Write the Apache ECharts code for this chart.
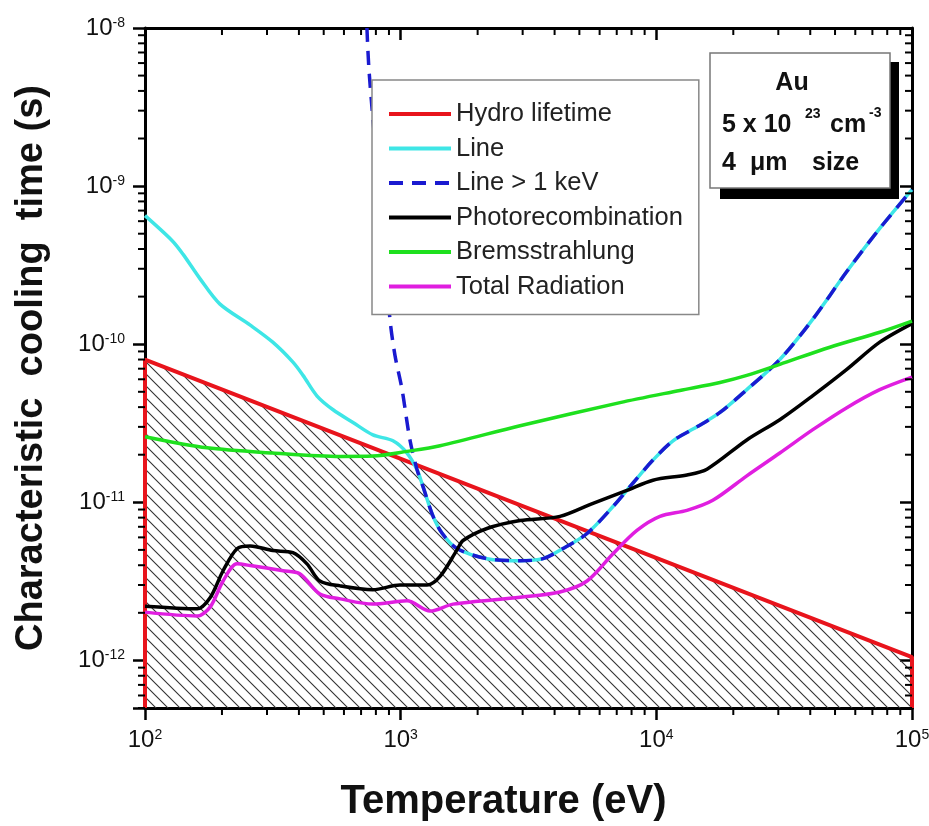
<!DOCTYPE html>
<html lang="en">
<head>
<meta charset="UTF-8">
<title>Au cooling times</title>
<script src="https://cdn.jsdelivr.net/npm/echarts@6/dist/echarts.min.js"></script>
<style>html,body{margin:0;padding:0;background:#fff;}</style>
</head>
<body>
<div id="chart" style="width:929px;height:826px;"></div>
<script type="text/javascript">
var FONT = '"Liberation Sans", Arial, sans-serif';

// [temperature eV, time s]
var hydro = [[100, 5e-13], [100, 8e-11], [100000, 1.05e-12], [100000, 5e-13]];

var lineLow = [[100, 6.5e-10], [128, 4.5e-10], [141, 3.7e-10], [164, 2.6e-10], [196, 1.8e-10],
  [258, 1.32e-10], [316, 1.03e-10], [379, 7.7e-11], [415, 6.35e-11], [471, 4.7e-11],
  [544, 3.85e-11], [651, 3.2e-11], [779, 2.67e-11], [933, 2.45e-11], [1059, 2.05e-11],
  [1160, 1.6e-11]];
var keVTop = [[738, 1e-8], [752, 5.4e-9], [800, 1.6e-9], [850, 5.2e-10], [908, 1.44e-10],
  [950, 8.5e-11], [1012, 5.2e-11], [1087, 2.48e-11], [1160, 1.6e-11]];
// shared by "Line" and "Line > 1 keV"
var lineHigh = [[1222, 1.26e-11], [1337, 8.2e-12], [1450, 6.4e-12], [1661, 5.1e-12],
  [2176, 4.4e-12], [2931, 4.27e-12], [3604, 4.4e-12], [4317, 5.1e-12], [5357, 6.35e-12],
  [6767, 9.4e-12], [8094, 1.32e-11], [9700, 1.85e-11], [11620, 2.45e-11], [14420, 3.0e-11],
  [17740, 3.7e-11], [22590, 5.16e-11], [30410, 8.0e-11], [40940, 1.44e-10],
  [55590, 2.88e-10], [74800, 5.4e-10], [100000, 9.5e-10]];

var photo = [[100, 2.2e-12], [160, 2.12e-12], [180, 2.5e-12], [202, 3.69e-12], [229, 5.09e-12],
  [258, 5.3e-12], [316, 4.95e-12], [379, 4.8e-12], [430, 4.08e-12], [483, 3.18e-12],
  [580, 2.96e-12], [779, 2.8e-12], [993, 3.0e-12], [1268, 3.0e-12], [1426, 3.4e-12],
  [1661, 5.0e-12], [1754, 5.73e-12], [2176, 6.83e-12], [2931, 7.67e-12], [4198, 8.15e-12],
  [5654, 9.86e-12], [7670, 1.19e-11], [9700, 1.38e-11], [13180, 1.49e-11], [15780, 1.62e-11],
  [22590, 2.48e-11], [30410, 3.33e-11], [40940, 4.73e-11], [55590, 6.93e-11],
  [74800, 1.03e-10], [100000, 1.35e-10]];

var brems = [[100, 2.6e-11], [175, 2.21e-11], [316, 2.05e-11], [580, 1.95e-11], [779, 1.96e-11],
  [1059, 2.1e-11], [1426, 2.28e-11], [2931, 3.05e-11], [7210, 4.27e-11], [12360, 5.1e-11],
  [17740, 5.73e-11], [22590, 6.35e-11], [30410, 7.46e-11], [47750, 9.57e-11],
  [74800, 1.19e-10], [100000, 1.4e-10]];

var total = [[100, 2.02e-12], [160, 1.91e-12], [180, 2.18e-12], [202, 3.18e-12], [229, 4.08e-12],
  [258, 3.98e-12], [347, 3.69e-12], [403, 3.53e-12], [483, 2.63e-12], [580, 2.45e-12],
  [779, 2.27e-12], [1059, 2.38e-12], [1303, 2.05e-12], [1603, 2.27e-12], [2931, 2.51e-12],
  [4198, 2.71e-12], [5357, 3.18e-12], [6767, 4.73e-12], [8397, 6.64e-12], [10330, 8.15e-12],
  [13180, 8.9e-12], [16630, 1.03e-11], [22590, 1.47e-11], [30410, 2.05e-11],
  [40940, 2.88e-11], [55590, 3.97e-11], [74800, 5.16e-11], [100000, 6.2e-11]];

var names = ['Hydro lifetime', 'Line', 'Line > 1 keV', 'Photorecombination', 'Bremsstrahlung', 'Total Radiation'];
var colors = ['#e8141c', '#3ee6e6', '#1a1ad0', '#000000', '#1ee01e', '#e01ee0'];

// minor tick positions on the log axes (2..9 x 10^k)
var minorX = [], minorY = [];
[100, 1000, 10000].forEach(function (d) {
  for (var m = 2; m <= 9; m++) minorX.push([m * d, 1e-10]);
});
[1e-13, 1e-12, 1e-11, 1e-10, 1e-9].forEach(function (d) {
  for (var m = 2; m <= 9; m++) {
    var v = m * d;
    if (v >= 5e-13 && v <= 1e-8) minorY.push([1000, v]);
  }
});

// diagonal hatch for the region below the hydro lifetime
var hatch = document.createElement('canvas');
hatch.width = 12; hatch.height = 12;
var hctx = hatch.getContext('2d');
hctx.strokeStyle = '#333';
hctx.lineWidth = 1.1;
hctx.beginPath();
hctx.moveTo(-2, -2); hctx.lineTo(14, 14);
hctx.moveTo(-2, 10); hctx.lineTo(2, 14);
hctx.moveTo(10, -2); hctx.lineTo(14, 2);
hctx.stroke();

function powLabel(value) {
  var lg = Math.log10(value);
  var e = Math.round(lg);
  if (Math.abs(lg - e) > 1e-6) return '';
  return '{b|10}{s|' + e + '}';
}

function minorXItem(params, api) {
  var p = api.coord([api.value(0), api.value(1)]);
  var cs = params.coordSys;
  var b = cs.y + cs.height, t = cs.y;
  return {
    type: 'group', children: [
      {type: 'line', shape: {x1: p[0], y1: b, x2: p[0], y2: b + 7}, style: {stroke: '#000', lineWidth: 2}},
      {type: 'line', shape: {x1: p[0], y1: t, x2: p[0], y2: t + 7}, style: {stroke: '#000', lineWidth: 2}}
    ]
  };
}
function minorYItem(params, api) {
  var p = api.coord([api.value(0), api.value(1)]);
  var cs = params.coordSys;
  var l = cs.x, r = cs.x + cs.width;
  return {
    type: 'group', children: [
      {type: 'line', shape: {x1: l - 7, y1: p[1], x2: l, y2: p[1]}, style: {stroke: '#000', lineWidth: 2}},
      {type: 'line', shape: {x1: r - 7, y1: p[1], x2: r, y2: p[1]}, style: {stroke: '#000', lineWidth: 2}}
    ]
  };
}

var axisLine = {lineStyle: {color: '#000', width: 3}};

var myChart = echarts.init(document.getElementById('chart'));

var option = {
  animation: false,
  backgroundColor: '#fff',
  grid: {left: 145, right: 17, top: 28, bottom: 118, outerBoundsMode: 'none'},
  legend: {
    orient: 'vertical',
    left: 372,
    top: 80,
    data: names,
    itemWidth: 62,
    itemHeight: 14,
    itemGap: 8.5,
    padding: [21, 16, 15, 15],
    backgroundColor: '#fff',
    borderColor: '#888',
    borderWidth: 1.5,
    borderRadius: 0,
    selectedMode: false,
    itemStyle: {opacity: 0},
    lineStyle: {width: 4},
    textStyle: {fontFamily: FONT, fontSize: 25.5, lineHeight: 26, color: '#222'}
  },
  xAxis: [{
    type: 'log', logBase: 10, min: 100, max: 100000, position: 'bottom',
    axisLine: axisLine,
    axisTick: {length: 12, lineStyle: {color: '#000', width: 2.5}},
    splitLine: {show: false},
    axisLabel: {
      margin: 20, formatter: powLabel, color: '#111',
      rich: {
        b: {fontFamily: FONT, fontSize: 24, lineHeight: 24, color: '#111', verticalAlign: 'bottom'},
        s: {fontFamily: FONT, fontSize: 14, lineHeight: 14, padding: [0, 0, 14, 0], color: '#111', verticalAlign: 'top'}
      }
    },
    name: 'Temperature (eV)', nameLocation: 'middle', nameGap: 74,
    nameTextStyle: {fontFamily: FONT, fontSize: 40, fontWeight: 'bold', color: '#111', padding: [0, 50, 0, 0]}
  }, {
    type: 'log', logBase: 10, min: 100, max: 100000, position: 'top',
    axisLine: axisLine,
    axisTick: {inside: true, length: 12, lineStyle: {color: '#000', width: 2.5}},
    splitLine: {show: false},
    axisLabel: {show: false}
  }],
  yAxis: [{
    type: 'log', logBase: 10, min: 5e-13, max: 1e-8, position: 'left',
    axisLine: axisLine,
    axisTick: {length: 12, lineStyle: {color: '#000', width: 2.5}},
    splitLine: {show: false},
    axisLabel: {
      margin: 20, formatter: powLabel, color: '#111',
      rich: {
        b: {fontFamily: FONT, fontSize: 24, lineHeight: 24, color: '#111', verticalAlign: 'bottom'},
        s: {fontFamily: FONT, fontSize: 14, lineHeight: 14, padding: [0, 0, 16, 0], color: '#111', verticalAlign: 'top'}
      }
    },
    name: 'Characteristic  cooling  time (s)', nameLocation: 'middle', nameRotate: 90, nameGap: 94,
    nameTextStyle: {fontFamily: FONT, fontSize: 38, fontWeight: 'bold', color: '#111'}
  }, {
    type: 'log', logBase: 10, min: 5e-13, max: 1e-8, position: 'right',
    axisLine: axisLine,
    axisTick: {inside: true, length: 12, lineStyle: {color: '#000', width: 2.5}},
    splitLine: {show: false},
    axisLabel: {show: false}
  }],
  graphic: [
    {type: 'rect', shape: {x: 720, y: 62, width: 179, height: 137}, style: {fill: '#000'}, z: 10},
    {type: 'rect', shape: {x: 710, y: 53, width: 180, height: 135}, style: {fill: '#fff', stroke: '#777', lineWidth: 1.5}, z: 11},
    {type: 'text', x: 792, y: 83, z: 12, style: {text: 'Au', font: 'bold 25px ' + FONT, fill: '#111', align: 'center', verticalAlign: 'middle'}},
    {type: 'text', x: 722, y: 125, z: 12, style: {text: '5 x 10', font: 'bold 25px ' + FONT, fill: '#111', verticalAlign: 'middle'}},
    {type: 'text', x: 805, y: 114, z: 12, style: {text: '23', font: 'bold 14px ' + FONT, fill: '#111', verticalAlign: 'middle'}},
    {type: 'text', x: 830, y: 125, z: 12, style: {text: 'cm', font: 'bold 25px ' + FONT, fill: '#111', verticalAlign: 'middle'}},
    {type: 'text', x: 869, y: 113, z: 12, style: {text: '-3', font: 'bold 14px ' + FONT, fill: '#111', verticalAlign: 'middle'}},
    {type: 'text', x: 722, y: 163, z: 12, style: {text: '4', font: 'bold 25px ' + FONT, fill: '#111', verticalAlign: 'middle'}},
    {type: 'text', x: 750, y: 163, z: 12, style: {text: 'μm', font: 'bold 25px ' + FONT, fill: '#111', verticalAlign: 'middle'}},
    {type: 'text', x: 812, y: 163, z: 12, style: {text: 'size', font: 'bold 25px ' + FONT, fill: '#111', verticalAlign: 'middle'}}
  ],
  series: [
    {
      name: names[0], type: 'line', data: hydro, symbol: 'none', clip: false,
      lineStyle: {color: colors[0], width: 4}, itemStyle: {color: colors[0]},
      areaStyle: {color: {image: hatch, repeat: 'repeat'}, origin: 'start', opacity: 1}
    },
    {
      name: names[1], type: 'line', data: lineLow.concat(lineHigh), symbol: 'none', smooth: 0.3,
      lineStyle: {color: colors[1], width: 3.5}, itemStyle: {color: colors[1]}
    },
    {
      name: names[2], type: 'line', data: keVTop.concat(lineHigh), symbol: 'none', smooth: 0.3,
      lineStyle: {color: colors[2], width: 3.5, type: [14, 9]}, itemStyle: {color: colors[2]}
    },
    {
      name: names[3], type: 'line', data: photo, symbol: 'none', smooth: 0.3,
      lineStyle: {color: colors[3], width: 3.5}, itemStyle: {color: colors[3]}
    },
    {
      name: names[4], type: 'line', data: brems, symbol: 'none', smooth: 0.3,
      lineStyle: {color: colors[4], width: 3.5}, itemStyle: {color: colors[4]}
    },
    {
      name: names[5], type: 'line', data: total, symbol: 'none', smooth: 0.3,
      lineStyle: {color: colors[5], width: 3.5}, itemStyle: {color: colors[5]}
    },
    {type: 'custom', renderItem: minorXItem, data: minorX, clip: false, silent: true, z: 5},
    {type: 'custom', renderItem: minorYItem, data: minorY, clip: false, silent: true, z: 5}
  ]
};

myChart.setOption(option);
</script>
</body>
</html>
